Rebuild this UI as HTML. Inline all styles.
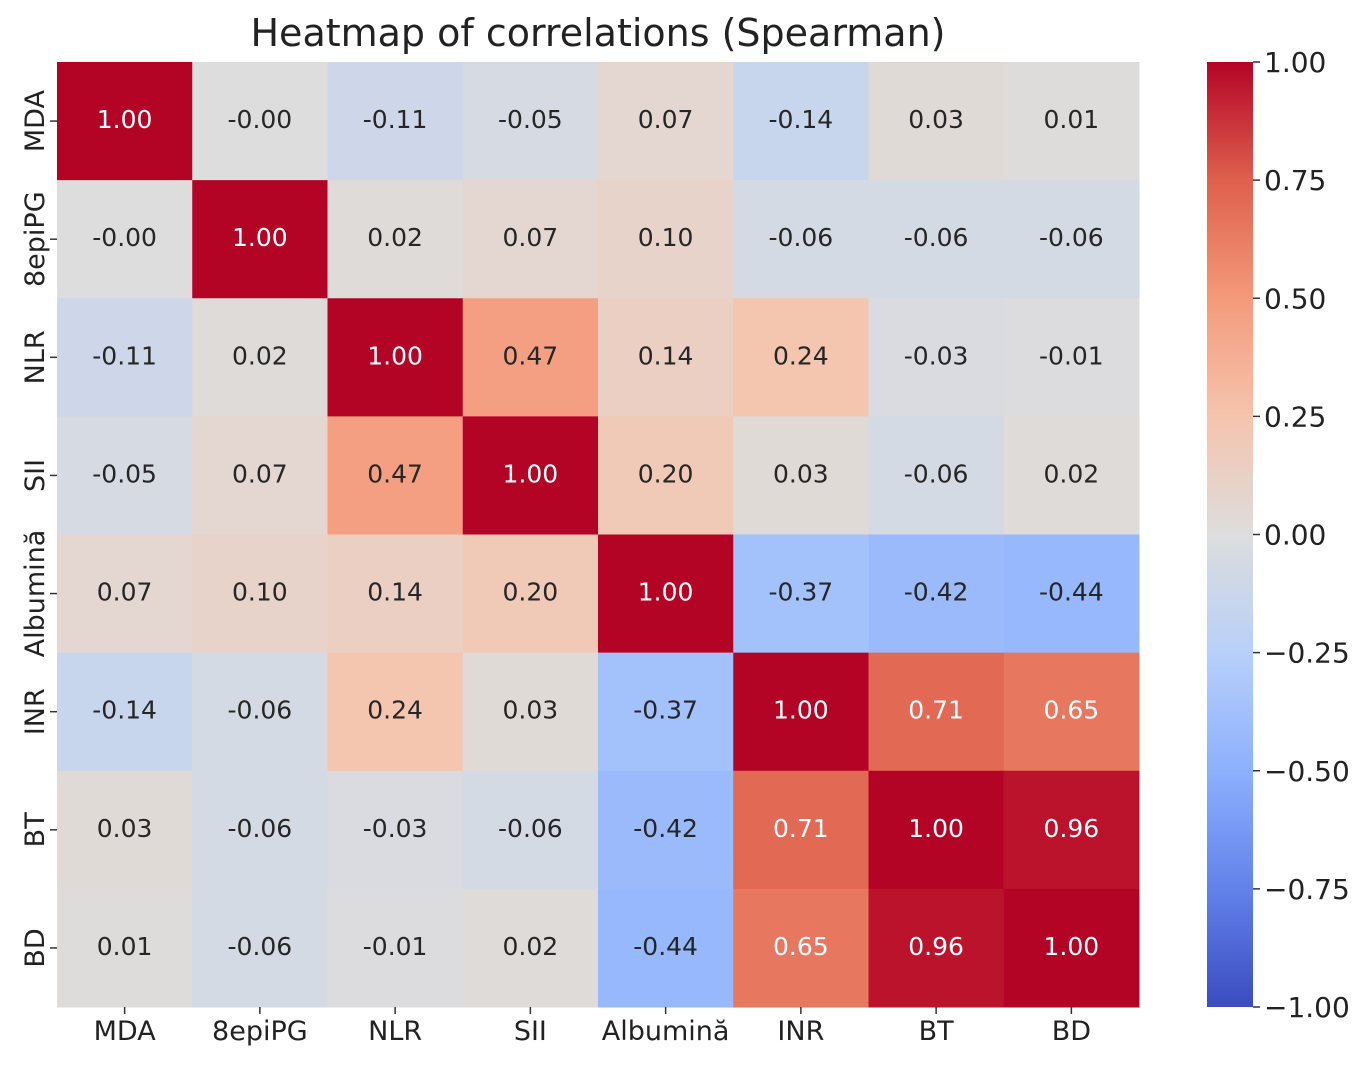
<!DOCTYPE html>
<html><head><meta charset="utf-8"><style>
body{margin:0;background:#fff;width:1370px;height:1064px;overflow:hidden;font-family:"DejaVu Sans","Liberation Sans",sans-serif;}
svg text{font-family:"DejaVu Sans","Liberation Sans",sans-serif;}
</style></head><body>
<svg id="chart" width="1370" height="1064">
<defs><linearGradient id="cb" x1="0" y1="1" x2="0" y2="0"></linearGradient></defs>
<text x="598" y="46" font-size="38" text-anchor="middle" fill="#222">Heatmap of correlations (Spearman)</text>
<g id="cells"></g><g id="xt"></g><g id="yt"></g>
<rect x="1207" y="62" width="46" height="945" fill="url(#cb)"/>
<g id="cbt"></g>
</svg>
<script>
const labels=["MDA","8epiPG","NLR","SII","Albumină","INR","BT","BD"];
const row0=[1.00,-0.00,-0.11,-0.05,0.07,-0.14,0.03,0.01];
const row1=[-0.00,1.00,0.02,0.07,0.10,-0.06,-0.06,-0.06];
const row2=[-0.11,0.02,1.00,0.47,0.14,0.24,-0.03,-0.01];
const row3=[-0.05,0.07,0.47,1.00,0.20,0.03,-0.06,0.02];
const row4=[0.07,0.10,0.14,0.20,1.00,-0.37,-0.42,-0.44];
const row5=[-0.14,-0.06,0.24,0.03,-0.37,1.00,0.71,0.65];
const row6=[0.03,-0.06,-0.03,-0.06,-0.42,0.71,1.00,0.96];
const row7=[0.01,-0.06,-0.01,0.02,-0.44,0.65,0.96,1.00];
const cbTicks=[1,0.75,0.5,0.25,0,-0.25,-0.5,-0.75,-1];
const matrix=[row0,row1,row2,row3,row4,row5,row6,row7];
const stops=[[59,76,192],[98,130,234],[141,176,254],[184,208,249],[221,221,221],[245,196,173],[244,154,123],[222,96,77],[180,4,38]];
function cmap(v){let t=(v+1)/2;t=Math.max(0,Math.min(1,t));let p=t*8,i=Math.min(7,Math.floor(p)),f=p-i;
return stops[i].map((c,k)=>Math.round(c+(stops[i+1][k]-c)*f));}
const L=57,T=62,W=1082,H=945,n=labels.length,cw=W/n,ch=H/n;
const xs=i=>L+i*cw, ys=j=>T+j*ch, cy=v=>T+(1-v)/2*H;
const NS="http://www.w3.org/2000/svg";
function el(tag,attrs,parent,txt){const e=document.createElementNS(NS,tag);for(const k in attrs)e.setAttribute(k,attrs[k]);if(txt!==undefined)e.textContent=txt;parent.appendChild(e);return e;}
function fmt(v){return (v<0||Object.is(v,-0)?'-':'')+Math.abs(v).toFixed(2);}
const cells=document.getElementById('cells');
matrix.forEach((row,j)=>row.forEach((v,i)=>{
 const c=cmap(v);
 const r=el('rect',{x:xs(i),y:ys(j),width:cw+0.5,height:ch+0.5,fill:`rgb(${c})`},cells);
 
 
 const lum=(0.2126*c[0]+0.7152*c[1]+0.0722*c[2])/255;
 const t=el('text',{x:xs(i)+cw/2,y:ys(j)+ch/2+7,'font-size':25,'text-anchor':'middle',fill:lum<0.62?'#fff':'#262626'},cells,fmt(v));
 
 
}));
const xt=document.getElementById('xt'),yt=document.getElementById('yt');
labels.forEach((lb,i)=>{
 el('line',{x1:xs(i)+cw/2,x2:xs(i)+cw/2,y1:T+H,y2:T+H+7,stroke:'#333','stroke-width':1.5},xt);
 const t=el('text',{x:xs(i)+cw/2,y:1040,'font-size':27,'text-anchor':'middle',fill:'#222'},xt,lb);
 
 
 el('line',{x1:L-7,x2:L,y1:ys(i)+ch/2,y2:ys(i)+ch/2,stroke:'#333','stroke-width':1.5},yt);
 const y=ys(i)+ch/2;
 const u=el('text',{x:44,y:y,'font-size':27,'text-anchor':'middle',fill:'#222',transform:`rotate(-90 44 ${y})`},yt,lb);
 
 
});
const g=document.getElementById('cb');
stops.forEach((s,k)=>el('stop',{offset:(k/8),'stop-color':`rgb(${s})`},g));
const cbt=document.getElementById('cbt');
cbTicks.forEach(v=>{
 el('line',{x1:1253,x2:1260,y1:cy(v),y2:cy(v),stroke:'#333','stroke-width':1.5},cbt);
 const t=el('text',{x:1264,y:cy(v)+10,'font-size':28,fill:'#222'},cbt,(v<0?'\u2212':'')+Math.abs(v).toFixed(2));
 
 
});
</script>
</body></html>
